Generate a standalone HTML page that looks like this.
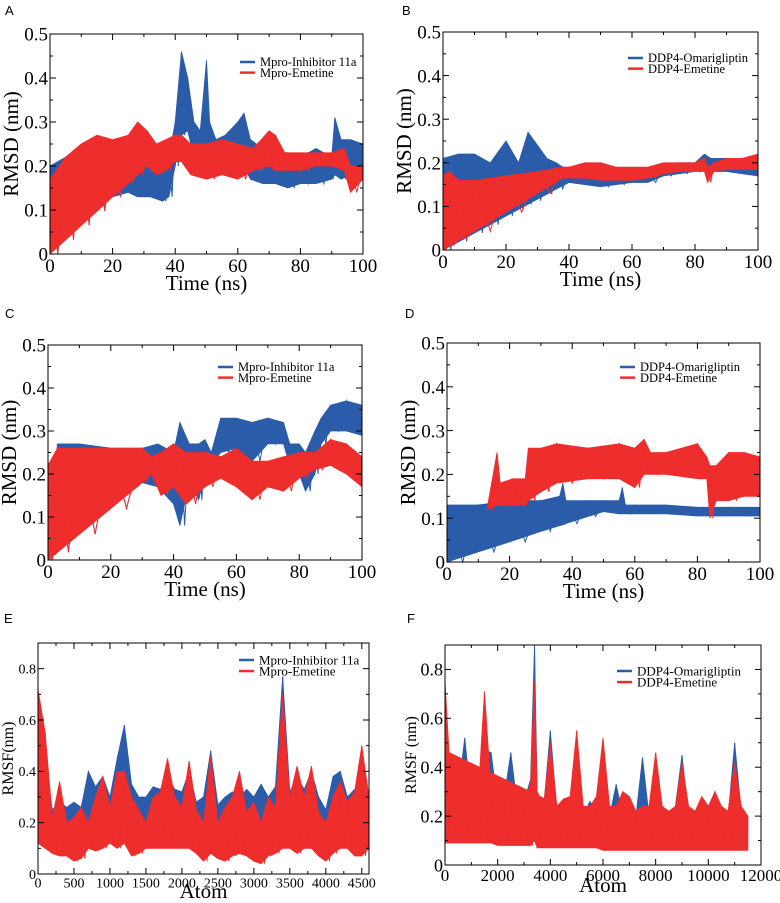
<!DOCTYPE html>
<html><head><meta charset="utf-8">
<style>
html,body{margin:0;padding:0;background:#fff;}
svg{display:block;}
text{font-family:"Liberation Serif",serif;fill:#000;}
.lbl{font-family:"Liberation Sans",sans-serif;font-size:13px;}
</style></head>
<body>
<svg id="fig" width="780" height="903" viewBox="0 0 780 903" xmlns="http://www.w3.org/2000/svg"></svg>
<script>
// ---------- Panel A data ----------
const aBlueT  = [0,5,10,15,20,25,28,32,36,38,40,42,44,46,48,50,51,53,56,60,62,64,68,72,76,80,85,90,91,93,96,100];
const aBlueHi = [0.2,0.22,0.25,0.26,0.25,0.25,0.22,0.21,0.19,0.22,0.3,0.46,0.4,0.3,0.28,0.44,0.3,0.26,0.27,0.3,0.32,0.26,0.24,0.23,0.23,0.22,0.24,0.22,0.31,0.26,0.26,0.25];
const aBlueLo = [0,0.04,0.08,0.11,0.13,0.14,0.13,0.13,0.12,0.13,0.2,0.27,0.28,0.22,0.2,0.22,0.2,0.2,0.19,0.18,0.2,0.17,0.16,0.16,0.15,0.16,0.16,0.17,0.18,0.17,0.18,0.17];
const aRedT   = [0,5,10,15,20,25,28,31,34,37,40,42,45,50,55,60,65,70,72,75,80,85,90,94,96,100];
const aRedHi  = [0.17,0.22,0.25,0.27,0.26,0.27,0.3,0.28,0.25,0.26,0.27,0.27,0.25,0.25,0.26,0.25,0.24,0.28,0.27,0.23,0.23,0.23,0.23,0.24,0.2,0.2];
const aRedLo  = [0,0.032,0.065,0.097,0.13,0.16,0.18,0.2,0.18,0.19,0.21,0.21,0.18,0.17,0.18,0.17,0.19,0.2,0.19,0.19,0.19,0.2,0.2,0.19,0.14,0.17];
// ---------- Panel B data ----------
const bBlueT  = [0,5,10,15,20,24,27,29,33,36,40,45,50,55,60,65,70,75,80,83,85,90,95,100];
const bBlueHi = [0.21,0.22,0.22,0.2,0.25,0.2,0.27,0.25,0.21,0.2,0.18,0.17,0.17,0.18,0.18,0.18,0.19,0.2,0.2,0.22,0.21,0.21,0.21,0.2];
const bBlueLo = [0,0.019,0.039,0.058,0.078,0.093,0.105,0.113,0.128,0.14,0.155,0.15,0.145,0.15,0.155,0.155,0.17,0.175,0.18,0.185,0.18,0.18,0.175,0.17];
const bRedT   = [0,2,5,10,20,30,38,40,45,50,55,60,65,70,75,80,83,84,86,90,95,100];
const bRedHi  = [0.17,0.18,0.16,0.16,0.17,0.18,0.19,0.19,0.2,0.2,0.19,0.19,0.19,0.2,0.2,0.2,0.21,0.19,0.2,0.21,0.21,0.22];
const bRedLo  = [0,0.009,0.022,0.043,0.087,0.13,0.165,0.165,0.165,0.16,0.16,0.16,0.165,0.175,0.18,0.18,0.18,0.155,0.18,0.185,0.185,0.185];
// ---------- Panel C data ----------
const cBlueT  = [0,2,3,10,20,30,35,40,42,45,48,50,52,55,60,65,70,75,77,80,82,85,87,90,95,100];
const cBlueHi = [0.23,0.13,0.27,0.27,0.26,0.26,0.27,0.25,0.32,0.27,0.27,0.28,0.25,0.33,0.33,0.32,0.33,0.32,0.27,0.27,0.25,0.3,0.33,0.36,0.37,0.36];
const cBlueLo = [0,0.012,0.018,0.06,0.12,0.18,0.17,0.13,0.08,0.18,0.14,0.2,0.22,0.25,0.26,0.23,0.27,0.27,0.22,0.2,0.16,0.2,0.27,0.3,0.3,0.29];
const cRedT   = [0,3,10,20,30,33,36,40,44,50,55,60,65,70,75,80,85,90,95,100];
const cRedHi  = [0.22,0.26,0.26,0.26,0.26,0.24,0.25,0.27,0.25,0.25,0.24,0.26,0.23,0.23,0.24,0.25,0.25,0.28,0.27,0.24];
const cRedLo  = [0,0.018,0.06,0.12,0.18,0.2,0.15,0.17,0.13,0.17,0.19,0.17,0.14,0.17,0.16,0.19,0.21,0.22,0.2,0.17];
// ---------- Panel D data ----------
const dBlueT  = [0,10,20,30,36,37,38,45,50,55,56,57,60,70,80,90,100];
const dBlueHi = [0.13,0.13,0.14,0.14,0.15,0.18,0.14,0.14,0.14,0.14,0.17,0.13,0.13,0.13,0.125,0.125,0.125];
const dBlueLo = [0,0.023,0.046,0.07,0.083,0.085,0.088,0.104,0.115,0.11,0.11,0.11,0.11,0.11,0.105,0.105,0.105];
const dRedT   = [13,16,17,21,25,26,30,35,45,55,60,63,65,70,80,83,84,86,90,95,100];
const dRedHi  = [0.13,0.25,0.18,0.19,0.19,0.26,0.26,0.27,0.26,0.27,0.26,0.28,0.25,0.25,0.27,0.24,0.22,0.22,0.25,0.25,0.24];
const dRedLo  = [0.12,0.13,0.13,0.13,0.13,0.14,0.16,0.18,0.19,0.19,0.17,0.2,0.2,0.2,0.19,0.19,0.1,0.14,0.14,0.15,0.15];
// ---------- Panel E data (atoms step 100) ----------
const eAtoms  = [0,100,200,300,400,500,600,700,800,900,1000,1100,1200,1300,1400,1500,1600,1700,1800,1900,2000,2100,2200,2300,2400,2500,2600,2700,2800,2900,3000,3100,3200,3300,3400,3500,3600,3700,3800,3900,4000,4100,4200,4300,4400,4500,4600];
const eBlueHi = [0.6,0.4,0.25,0.28,0.26,0.28,0.26,0.4,0.34,0.38,0.3,0.45,0.58,0.35,0.3,0.3,0.34,0.33,0.38,0.33,0.32,0.4,0.28,0.3,0.48,0.27,0.3,0.32,0.3,0.33,0.3,0.35,0.3,0.34,0.77,0.32,0.38,0.33,0.4,0.3,0.25,0.38,0.4,0.3,0.33,0.35,0.3];
const eBlueLo = [0.14,0.13,0.11,0.1,0.1,0.08,0.09,0.13,0.12,0.13,0.15,0.13,0.15,0.1,0.11,0.13,0.13,0.13,0.13,0.13,0.13,0.13,0.11,0.08,0.11,0.09,0.08,0.1,0.11,0.1,0.08,0.07,0.1,0.11,0.13,0.13,0.11,0.13,0.13,0.1,0.08,0.11,0.13,0.13,0.1,0.1,0.13];
const eRedHi  = [0.72,0.55,0.22,0.36,0.2,0.22,0.26,0.2,0.3,0.38,0.26,0.4,0.4,0.3,0.25,0.2,0.3,0.32,0.45,0.3,0.26,0.44,0.25,0.2,0.46,0.2,0.26,0.3,0.4,0.24,0.28,0.2,0.3,0.26,0.7,0.3,0.42,0.3,0.42,0.24,0.2,0.3,0.36,0.28,0.32,0.5,0.3];
const eRedLo  = [0.12,0.1,0.08,0.07,0.07,0.05,0.06,0.1,0.09,0.1,0.12,0.1,0.12,0.07,0.08,0.1,0.1,0.1,0.1,0.1,0.1,0.1,0.08,0.05,0.08,0.06,0.05,0.07,0.08,0.07,0.05,0.04,0.07,0.08,0.1,0.1,0.08,0.1,0.1,0.07,0.05,0.08,0.1,0.1,0.07,0.07,0.1];
// ---------- Panel F data (atoms step 250) ----------
const fAtoms  = [0,250,500,750,1000,1250,1500,1750,2000,2250,2500,2750,3000,3250,3400,3500,3750,4000,4250,4500,4750,5000,5250,5500,5750,6000,6250,6500,6750,7000,7250,7500,7750,8000,8250,8500,8750,9000,9250,9500,9750,10000,10250,10500,10750,11000,11250,11500];
const fBlueHi = [0.5,0.28,0.3,0.52,0.26,0.3,0.47,0.46,0.25,0.28,0.46,0.24,0.26,0.35,0.9,0.3,0.24,0.55,0.22,0.25,0.22,0.24,0.2,0.26,0.22,0.46,0.2,0.33,0.2,0.24,0.2,0.44,0.2,0.45,0.2,0.2,0.24,0.45,0.2,0.22,0.26,0.2,0.3,0.22,0.2,0.5,0.22,0.2];
const fBlueLo = [0.1,0.1,0.1,0.1,0.1,0.1,0.1,0.1,0.09,0.09,0.09,0.09,0.09,0.09,0.18,0.08,0.08,0.08,0.08,0.08,0.08,0.08,0.08,0.08,0.07,0.07,0.07,0.07,0.07,0.07,0.07,0.07,0.07,0.07,0.07,0.07,0.07,0.07,0.07,0.07,0.07,0.07,0.07,0.07,0.07,0.07,0.07,0.07];
const fRedHi  = [0.75,0.28,0.3,0.3,0.26,0.27,0.71,0.3,0.26,0.26,0.28,0.24,0.26,0.33,0.75,0.3,0.25,0.5,0.24,0.27,0.28,0.55,0.24,0.24,0.28,0.52,0.24,0.24,0.3,0.28,0.22,0.24,0.24,0.46,0.24,0.22,0.24,0.42,0.24,0.22,0.28,0.24,0.3,0.24,0.22,0.42,0.24,0.2];
const fRedLo  = [0.09,0.09,0.09,0.09,0.09,0.09,0.09,0.09,0.08,0.08,0.08,0.08,0.08,0.08,0.1,0.07,0.07,0.07,0.07,0.07,0.07,0.07,0.07,0.07,0.07,0.06,0.06,0.06,0.06,0.06,0.06,0.06,0.06,0.06,0.06,0.06,0.06,0.06,0.06,0.06,0.06,0.06,0.06,0.06,0.06,0.06,0.06,0.06];
const fWrapX  = [0,7500];
const fWrapY  = [0.47,0.08];

const BLUE = '#2a5caa', RED = '#ee2d2d';
const NS = 'http://www.w3.org/2000/svg';
const fig = document.getElementById('fig');
function mk(tag, attrs, parent){
  const e = document.createElementNS(NS, tag);
  for (const k in attrs) e.setAttribute(k, attrs[k]);
  (parent||fig).appendChild(e);
  return e;
}
function txt(s, attrs, parent){ const t = mk('text', attrs, parent); t.textContent = s; return t; }

function makePanel(p){
  const g = mk('g', {});
  
  
  const sx = v => p.L + (v - p.xmin) / (p.xmax - p.xmin) * (p.R - p.L);
  const sy = v => p.B - v / p.ymax * (p.B - p.T);
  p.sx = sx; p.sy = sy; p.g = g;
  const lab = txt(p.letter, {x:p.letterX, y:p.letterY, class:'lbl'}, g);
  
  
  return p;
}
function band(p, xs, hi, lo, color, nm){
  const g = mk('g', {}, p.g);
  
  
  let pts = xs.map((x,i)=>p.sx(x)+','+p.sy(hi[i]));
  for (let i = xs.length-1; i >= 0; i--) pts.push(p.sx(xs[i])+','+p.sy(lo[i]));
  mk('polygon', {points:pts.join(' '), fill:color, stroke:color, 'stroke-width':0.8}, g);
  let z = [];
  xs.forEach((x,i)=>{
    z.push(p.sx(x)+','+p.sy(hi[i]));
    if (i < xs.length-1){
      const xm = (x + xs[i+1]) / 2;
      z.push(p.sx(xm)+','+p.sy(lo[i]));
    }
  });
  mk('polyline', {points:z.join(' '), fill:'none', stroke:color, 'stroke-width':1}, g);
}
function axes(p, xt, xtMinor, yt, ytMinor, yfmt, xsize, ysize, xtitle, ytitle, ytx, xtitleY, ytitleSize, xtitleSize){
  const g = mk('g', {}, p.g);
  
  
  mk('rect', {x:p.L, y:p.T, width:p.R-p.L, height:p.B-p.T, fill:'none', stroke:'#000', 'stroke-width':1}, g);
  const tk = (x1,y1,x2,y2)=>mk('line',{x1,y1,x2,y2,stroke:'#000','stroke-width':1},g);
  xt.forEach(v=>{const x=p.sx(v); tk(x,p.B,x,p.B-6); tk(x,p.T,x,p.T+6);
    const t = txt(String(v), {x:x, y:p.B+xsize*0.95, 'font-size':xsize, 'text-anchor':'middle'}, g);
     });
  xtMinor.forEach(v=>{const x=p.sx(v); tk(x,p.B,x,p.B-3); tk(x,p.T,x,p.T+3);});
  yt.forEach(v=>{const y=p.sy(v); tk(p.L,y,p.L+6,y); tk(p.R,y,p.R-6,y);
    const t = txt(yfmt(v), {x:p.L-2, y:y+ysize*0.35, 'font-size':ysize, 'text-anchor':'end'}, g);
     });
  ytMinor.forEach(v=>{const y=p.sy(v); tk(p.L,y,p.L+3,y); tk(p.R,y,p.R-3,y);});
  const xt2 = txt(xtitle, {x:(p.L+p.R)/2, y:xtitleY, 'font-size':xtitleSize, 'text-anchor':'middle'}, g);
   
  const cy = (p.T+p.B)/2;
  const yt2 = txt(ytitle, {x:ytx, y:cy, 'font-size':ytitleSize, 'text-anchor':'middle', transform:'rotate(-90 '+ytx+' '+cy+')'}, g);
   
}
function legend(p, x, y, names, fs){
  const g = mk('g', {}, p.g);
  
  
  [BLUE, RED].forEach((c,i)=>{
    const yy = y + i*fs*0.85;
    const e = mk('g', {}, g);
    
    
    mk('line', {x1:x, y1:yy, x2:x+15, y2:yy, stroke:c, 'stroke-width':2.5}, e);
    txt(names[i], {x:x+20, y:yy+fs*0.33, 'font-size':fs}, e);
  });
}
const f1 = v => v===0 ? '0' : v.toFixed(1);
const rmsdTicksX = [0,20,40,60,80,100], rmsdMinorX = [10,30,50,70,90];
const rmsdTicksY = [0,0.1,0.2,0.3,0.4,0.5], rmsdMinorY = [0.05,0.15,0.25,0.35,0.45];

function rmsdPanel(cfg, bT,bHi,bLo, rT,rHi,rLo, names, lx, ly){
  const p = makePanel(Object.assign({xmin:0,xmax:100,ymax:0.5}, cfg));
  band(p, bT, bHi, bLo, BLUE, 'series-blue');
  band(p, rT, rHi, rLo, RED, 'series-red');
  axes(p, rmsdTicksX, rmsdMinorX, rmsdTicksY, rmsdMinorY, f1, 19, 19, 'Time (ns)', 'RMSD (nm)', p.L-32, p.B+36, 21, 21);
  legend(p, lx, ly, names, 12.5);
}
rmsdPanel({name:'panel-a', letter:'A', letterX:5, letterY:15, L:50, R:363, T:34, B:254}, aBlueT,aBlueHi,aBlueLo, aRedT,aRedHi,aRedLo, ['Mpro-Inhibitor 11a','Mpro-Emetine'], 240, 62);
rmsdPanel({name:'panel-b', letter:'B', letterX:402, letterY:15, L:443, R:758, T:32, B:250}, bBlueT,bBlueHi,bBlueLo, bRedT,bRedHi,bRedLo, ['DDP4-Omarigliptin','DDP4-Emetine'], 628, 58);
rmsdPanel({name:'panel-c', letter:'C', letterX:5, letterY:318, L:48, R:362, T:345, B:560}, cBlueT,cBlueHi,cBlueLo, cRedT,cRedHi,cRedLo, ['Mpro-Inhibitor 11a','Mpro-Emetine'], 218, 367);
rmsdPanel({name:'panel-d', letter:'D', letterX:405, letterY:318, L:447, R:760, T:343, B:562}, dBlueT,dBlueHi,dBlueLo, dRedT,dRedHi,dRedLo, ['DDP4-Omarigliptin','DDP4-Emetine'], 620, 367);

// Panel E
(function(){
  const p = makePanel({name:'panel-e', letter:'E', letterX:4, letterY:623, L:38, R:369, T:643, B:874, xmin:0, xmax:4600, ymax:0.9});
  band(p, eAtoms, eBlueHi, eBlueLo, BLUE, 'series-blue');
  band(p, eAtoms, eRedHi, eRedLo, RED, 'series-red');
  axes(p, [0,500,1000,1500,2000,2500,3000,3500,4000,4500], [250,750,1250,1750,2250,2750,3250,3750,4250], [0,0.2,0.4,0.6,0.8], [0.1,0.3,0.5,0.7], f1, 14, 14, 'Atom', 'RMSF(nm)', 13, 898, 16, 21);
  legend(p, 239, 660, ['Mpro-Inhibitor 11a','Mpro-Emetine'], 13);
})();
// Panel F
(function(){
  const p = makePanel({name:'panel-f', letter:'F', letterX:407, letterY:623, L:445, R:761, T:645, B:865, xmin:0, xmax:12000, ymax:0.9});
  band(p, fAtoms, fBlueHi, fBlueLo, BLUE, 'series-blue');
  const w = mk('polygon', {points:[p.sx(fWrapX[0])+','+p.sy(fWrapY[0]), p.sx(fWrapX[1])+','+p.sy(fWrapY[1]),
     ...fAtoms.filter(a=>a<=fWrapX[1]).reverse().map(a=>p.sx(a)+','+p.sy(fRedLo[fAtoms.indexOf(a)]))].join(' '), fill:RED}, p.g);
  
  
  band(p, fAtoms, fRedHi, fRedLo, RED, 'series-red');
  axes(p, [0,2000,4000,6000,8000,10000,12000], [1000,3000,5000,7000,9000,11000], [0,0.2,0.4,0.6,0.8], [0.1,0.3,0.5,0.7], f1, 17, 18, 'Atom', 'RMSF (nm)', 416, 892, 16, 21);
  legend(p, 617, 671, ['DDP4-Omarigliptin','DDP4-Emetine'], 13);
})();
</script>
</body></html>
